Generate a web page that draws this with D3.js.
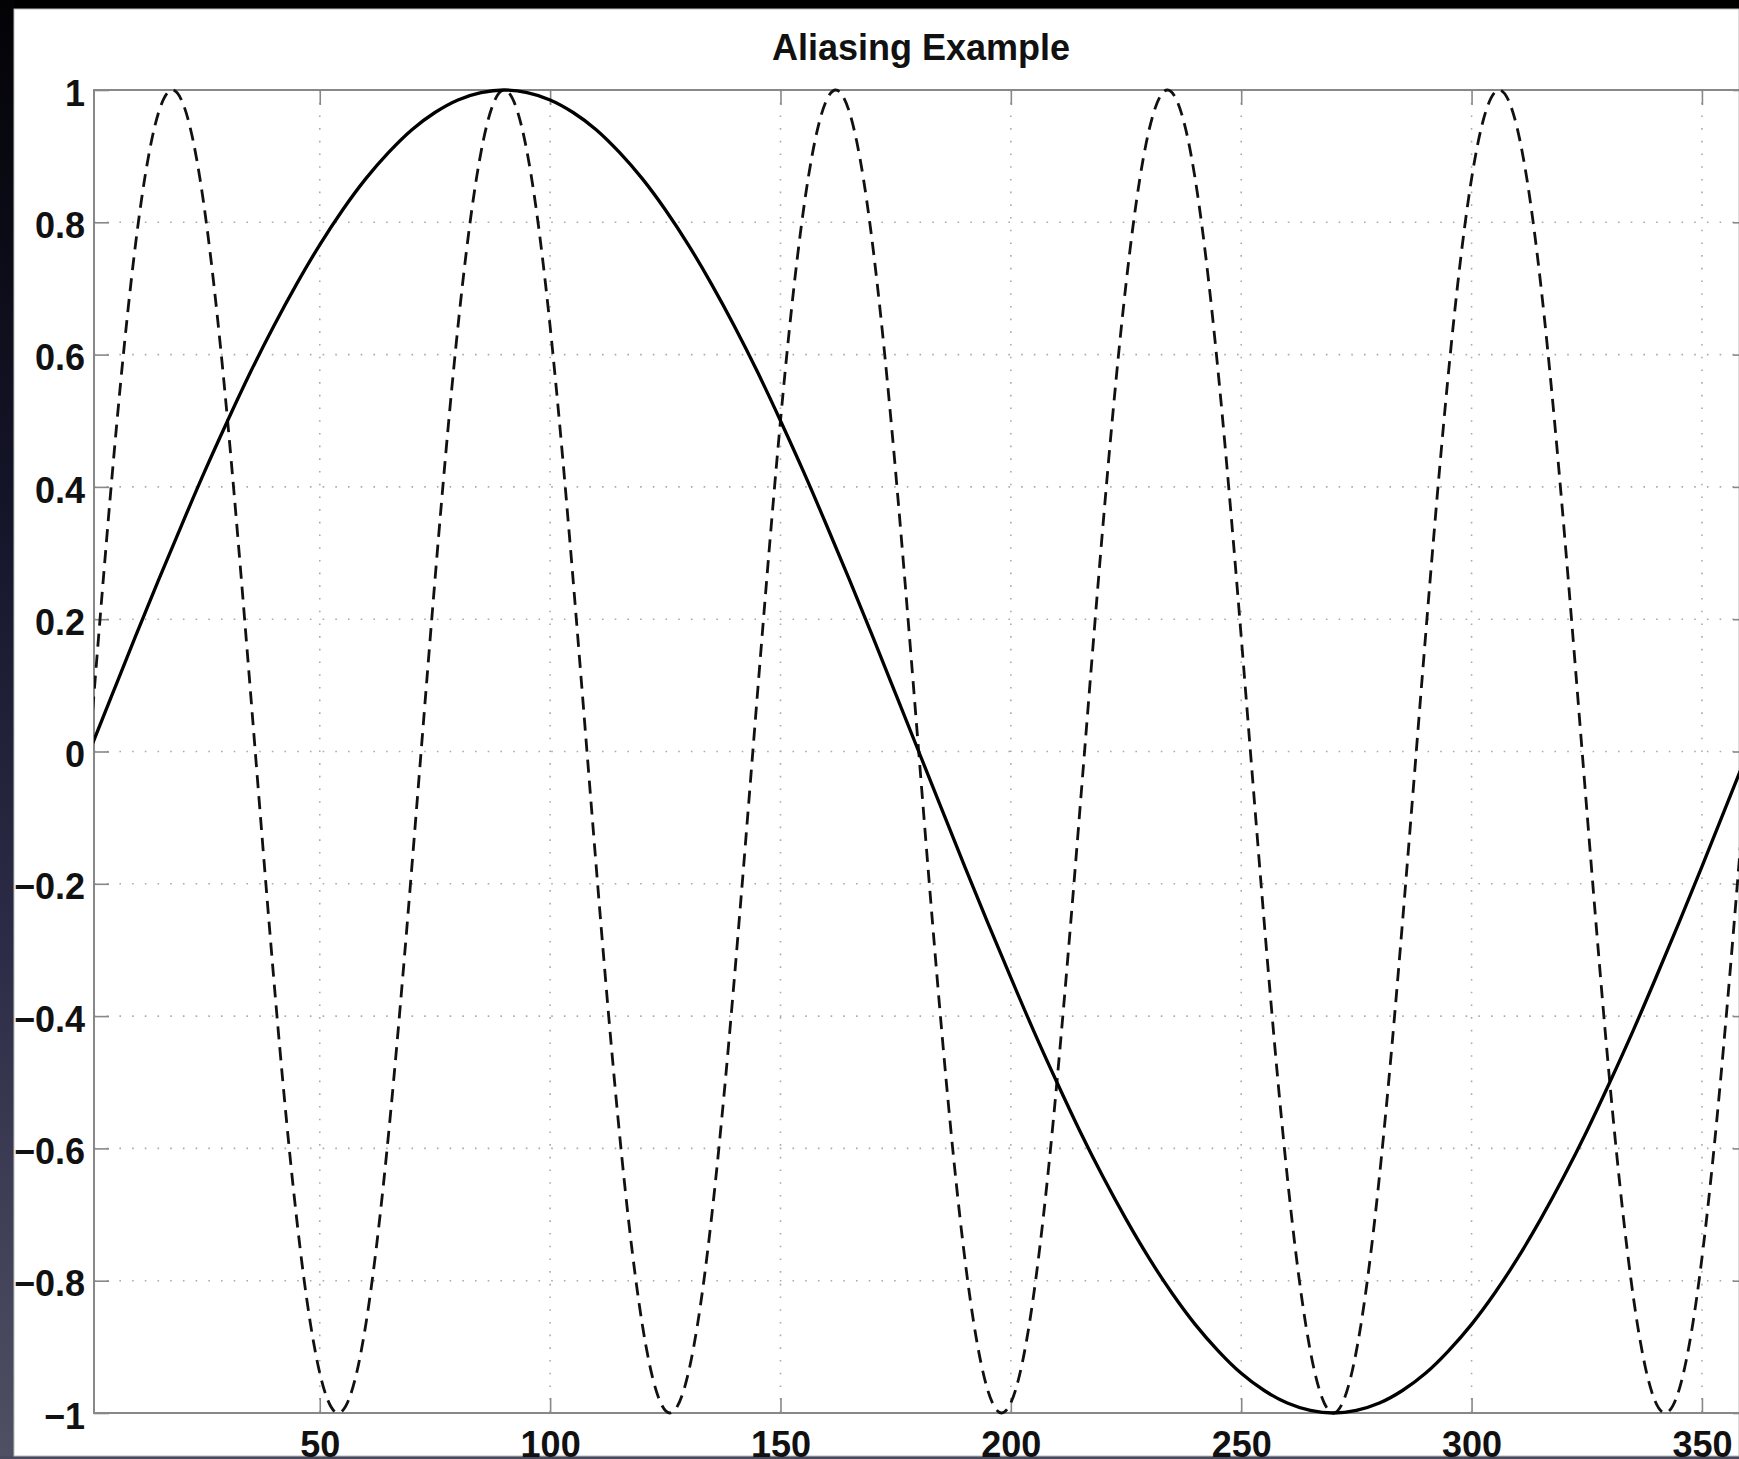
<!DOCTYPE html>
<html>
<head>
<meta charset="utf-8">
<script src="https://cdn.jsdelivr.net/npm/d3@7"></script>
<style>
  body { margin: 0; background: #000; overflow: hidden; }
  text { font-family: "Liberation Sans", Arial, Helvetica, sans-serif; font-weight: bold; }
</style>
</head>
<body>
<script>
// solid curve, sampled every 5 along x
const xSolid = [0, 5, 10, 15, 20, 25, 30, 35, 40, 45, 50, 55, 60, 65, 70, 75, 80, 85, 90,
                95, 100, 105, 110, 115, 120, 125, 130, 135, 140, 145, 150, 155, 160, 165, 170, 175, 180,
                185, 190, 195, 200, 205, 210, 215, 220, 225, 230, 235, 240, 245, 250, 255, 260, 265, 270,
                275, 280, 285, 290, 295, 300, 305, 310, 315, 320, 325, 330, 335, 340, 345, 350, 355, 360];
const ySolid = [0, 0.087, 0.174, 0.259, 0.342, 0.423, 0.5, 0.574, 0.643, 0.707, 0.766, 0.819, 0.866, 0.906, 0.94, 0.966, 0.985, 0.996, 1,
                0.996, 0.985, 0.966, 0.94, 0.906, 0.866, 0.819, 0.766, 0.707, 0.643, 0.574, 0.5, 0.423, 0.342, 0.259, 0.174, 0.087, 0,
                -0.087, -0.174, -0.259, -0.342, -0.423, -0.5, -0.574, -0.643, -0.707, -0.766, -0.819, -0.866, -0.906, -0.94, -0.966, -0.985, -0.996, -1,
                -0.996, -0.985, -0.966, -0.94, -0.906, -0.866, -0.819, -0.766, -0.707, -0.643, -0.574, -0.5, -0.423, -0.342, -0.259, -0.174, -0.087, 0];

// dashed curve, sampled every 6 along x
const xDashed = [0, 6, 12, 18, 24, 30, 36, 42, 48, 54, 60, 66, 72, 78, 84, 90, 96, 102, 108, 114, 120,
                 126, 132, 138, 144, 150, 156, 162, 168, 174, 180, 186, 192, 198, 204, 210, 216, 222, 228, 234, 240,
                 246, 252, 258, 264, 270, 276, 282, 288, 294, 300, 306, 312, 318, 324, 330, 336, 342, 348, 354, 360];
const yDashed = [0, 0.5, 0.866, 1, 0.866, 0.5, 0, -0.5, -0.866, -1, -0.866, -0.5,
                 0, 0.5, 0.866, 1, 0.866, 0.5, 0, -0.5, -0.866, -1, -0.866, -0.5,
                 0, 0.5, 0.866, 1, 0.866, 0.5, 0, -0.5, -0.866, -1, -0.866, -0.5,
                 0, 0.5, 0.866, 1, 0.866, 0.5, 0, -0.5, -0.866, -1, -0.866, -0.5,
                 0, 0.5, 0.866, 1, 0.866, 0.5, 0, -0.5, -0.866, -1, -0.866, -0.5, 0];

const xTicks = [50, 100, 150, 200, 250, 300, 350];
const xTickLabels = ['50', '100', '150', '200', '250', '300', '350'];
const yTicks = [-1, -0.8, -0.6, -0.4, -0.2, 0, 0.2, 0.4, 0.6, 0.8, 1];
const yTickLabels = ['\u22121', '\u22120.8', '\u22120.6', '\u22120.4', '\u22120.2', '0', '0.2', '0.4', '0.6', '0.8', '1'];

const width = 1739, height = 1459;
const margin = { top: 90, left: 94, right: 1748, bottom: 1413 }; // plot box edges

const svg = d3.select('body').append('svg')
  .attr('width', width).attr('height', height)
  .style('display', 'block');

const defs = svg.append('defs');
const grad = defs.append('linearGradient')
  .attr('id', 'sidebg').attr('x1', 0).attr('y1', 0).attr('x2', 0).attr('y2', 1);
grad.append('stop').attr('offset', '0%').attr('stop-color', '#030306');
grad.append('stop').attr('offset', '35%').attr('stop-color', '#15152a');
grad.append('stop').attr('offset', '65%').attr('stop-color', '#2c2c47');
grad.append('stop').attr('offset', '100%').attr('stop-color', '#505064');

defs.append('clipPath').attr('id', 'plotclip')
  .append('rect')
  .attr('x', margin.left).attr('y', margin.top - 2)
  .attr('width', margin.right - margin.left).attr('height', margin.bottom - margin.top + 4);

// backdrop
svg.append('rect').attr('width', width).attr('height', height).attr('fill', '#000');
svg.append('rect').attr('x', 0).attr('y', 0).attr('width', 14).attr('height', height).attr('fill', 'url(#sidebg)');
svg.append('rect').attr('x', 0).attr('y', 1456).attr('width', width).attr('height', 3).attr('fill', '#4a4a5e');
svg.append('rect')
  .attr('x', 14).attr('y', 9).attr('width', width - 14).attr('height', 1447)
  .attr('fill', '#fff').attr('stroke', '#bbb').attr('stroke-width', 1);

const x = d3.scaleLinear().domain([1, 360]).range([margin.left, margin.right]);
const y = d3.scaleLinear().domain([-1, 1]).range([margin.bottom, margin.top]);

// dotted grid
svg.append('g').selectAll('line').data(xTicks).enter().append('line')
  .attr('x1', d => x(d)).attr('x2', d => x(d))
  .attr('y1', margin.top).attr('y2', margin.bottom)
  .attr('stroke', '#aaa').attr('stroke-width', 1.6).attr('stroke-dasharray', '1.6,11.1');
svg.append('g').selectAll('line').data(yTicks.slice(1, -1)).enter().append('line')
  .attr('x1', margin.left).attr('x2', margin.right)
  .attr('y1', d => y(d)).attr('y2', d => y(d))
  .attr('stroke', '#aaa').attr('stroke-width', 1.6).attr('stroke-dasharray', '1.6,11.1');

// axes, ticks pointing inward
const xAxisB = svg.append('g')
  .attr('transform', `translate(0, ${margin.bottom})`)
  .call(d3.axisBottom(x).tickValues(xTicks).tickSize(-15).tickPadding(18)
    .tickFormat((d, i) => xTickLabels[i]));
const xAxisT = svg.append('g')
  .attr('transform', `translate(0, ${margin.top})`)
  .call(d3.axisTop(x).tickValues(xTicks).tickSize(-15).tickFormat(''));
const yAxisL = svg.append('g')
  .attr('transform', `translate(${margin.left}, 0)`)
  .call(d3.axisLeft(y).tickValues(yTicks).tickSize(-15).tickPadding(9)
    .tickFormat((d, i) => yTickLabels[i]));
const yAxisR = svg.append('g')
  .attr('transform', `translate(${margin.right}, 0)`)
  .call(d3.axisRight(y).tickValues(yTicks).tickSize(-15).tickFormat(''));

[xAxisB, xAxisT, yAxisL, yAxisR].forEach(g => {
  g.select('.domain').remove();
  g.selectAll('.tick line').attr('stroke', '#888').attr('stroke-width', 1.6);
  g.selectAll('.tick text')
    .attr('fill', '#111')
    .style('font-size', '36px')
    .style('font-family', '"Liberation Sans", Arial, sans-serif')
    .style('font-weight', 'bold');
});
yAxisL.selectAll('.tick text').attr('dy', '0.42em');

// box
svg.append('rect')
  .attr('x', margin.left).attr('y', margin.top)
  .attr('width', margin.right - margin.left).attr('height', margin.bottom - margin.top)
  .attr('fill', 'none').attr('stroke', '#888').attr('stroke-width', 2);

const plot = svg.append('g').attr('clip-path', 'url(#plotclip)');

const line = d3.line().curve(d3.curveNatural)
  .x(d => x(d[0])).y(d => y(d[1]));

plot.append('path')
  .datum(xDashed.map((d, i) => [d, yDashed[i]]))
  .attr('d', line)
  .attr('fill', 'none').attr('stroke', '#111').attr('stroke-width', 2.8)
  .attr('stroke-dasharray', '13,8');

plot.append('path')
  .datum(xSolid.map((d, i) => [d, ySolid[i]]))
  .attr('d', line)
  .attr('fill', 'none').attr('stroke', '#000').attr('stroke-width', 3.3);

svg.append('text')
  .attr('x', (margin.left + margin.right) / 2)
  .attr('y', 60)
  .attr('text-anchor', 'middle')
  .attr('fill', '#111')
  .style('font-size', '36px')
  .text('Aliasing Example');
</script>
</body>
</html>
